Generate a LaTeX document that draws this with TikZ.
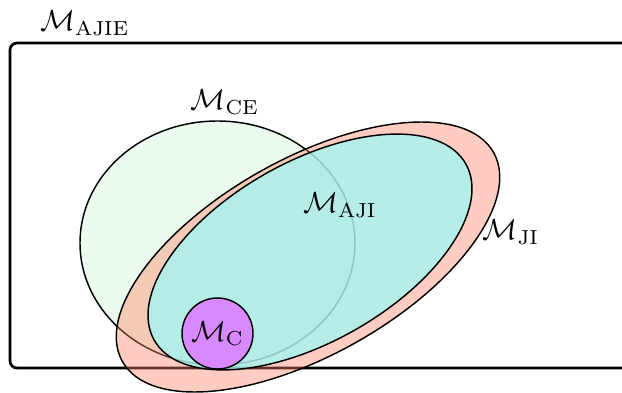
\documentclass[tikz,border=0pt]{standalone}
\usepackage{amsmath}
\definecolor{cefill}{RGB}{235,252,238}
\definecolor{jifill}{RGB}{255,127,100}
\definecolor{ajifill}{RGB}{159,249,245}
\definecolor{cfill}{RGB}{216,137,255}
\begin{document}
\begin{tikzpicture}[x=1pt,y=1pt,
  setline/.style={draw=black,line width=1.45pt},
  lbl/.style={inner sep=0pt,scale=2.9}]
\useasboundingbox (0,0) rectangle (622,392);
\clip (0,0) rectangle (622,392);
% universe box
\draw[line width=2.7pt,rounded corners=7pt] (10,24) rectangle (660,349);
% CE
\filldraw[setline,fill=cefill] (217.5,149) ellipse [x radius=137.5, y radius=122];
% JI
\fill[jifill,fill opacity=0.4] (308,135) ellipse [x radius=213, y radius=98, rotate=29.4];
\draw[setline] (308,135) ellipse [x radius=213, y radius=98, rotate=29.4];
% AJI
\fill[ajifill,fill opacity=0.75] (310,140) ellipse [x radius=179, y radius=90, rotate=29.5];
\draw[setline] (310,140) ellipse [x radius=179, y radius=90, rotate=29.5];
% C
\filldraw[setline,fill=cfill] (217.5,58.5) circle [radius=35.5];
% labels
\node[lbl] (lajie) at (85,369) {$\mathcal{M}_{\mathrm{AJIE}}$};
\node[lbl] (lce) at (225,290) {$\mathcal{M}_{\mathrm{CE}}$};
\node[lbl] (laji) at (340,187) {$\mathcal{M}_{\mathrm{AJI}}$};
\node[lbl] (lji) at (511,160) {$\mathcal{M}_{\mathrm{JI}}$};
\node[lbl] (lc) at (217.5,58.5) {$\mathcal{M}_{\mathrm{C}}$};
\end{tikzpicture}
\end{document}
